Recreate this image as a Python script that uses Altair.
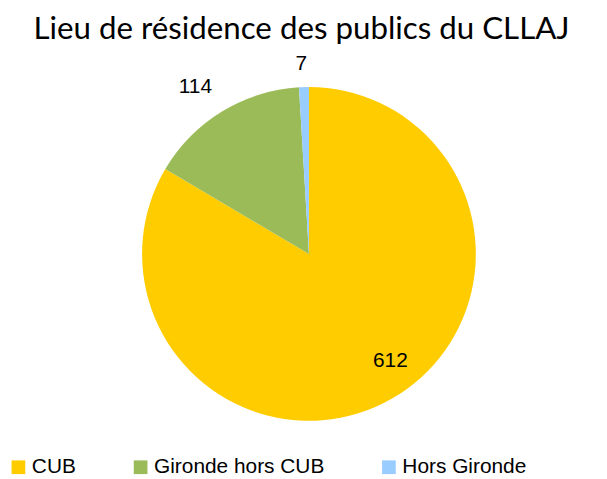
import altair as alt
import pandas as pd

categories = ["CUB", "Gironde hors CUB", "Hors Gironde"]
values = [612, 114, 7]
colors = ["#FFCC00", "#9BBB59", "#99CCFF"]

df = pd.DataFrame({
    "cat": categories,
    "value": values,
    "ord": list(range(len(categories))),
})

W, H = 591, 423
CX, CY = 299, 206
R = 168

base = alt.Chart(df).encode(
    theta=alt.Theta("value:Q", stack=True),
    order=alt.Order("ord:Q"),
    x=alt.value(CX), y=alt.value(CY),
)

pie = base.mark_arc(outerRadius=R).encode(
    color=alt.Color(
        "cat:N",
        scale=alt.Scale(domain=categories, range=colors),
        sort=categories,
        legend=alt.Legend(
            title=None, orient="none", direction="horizontal",
            legendX=-4, legendY=H - 13,
            symbolType="square", symbolSize=190, symbolStrokeWidth=0,
            labelFont="Liberation Sans", labelFontSize=21, labelColor="black",
            labelOffset=3, columnPadding=54, padding=0, labelLimit=400,
        ),
    ),
)

def label(cat, radius, dx=0, dy=0):
    return base.mark_text(radius=radius, dx=dx, dy=dy, font="Liberation Sans",
                          fontSize=21, color="black").encode(
        text=alt.condition(alt.datum.cat == cat, alt.Text("value:Q"), alt.value("")),
    )

chart = alt.layer(
    pie,
    label(categories[0], 133, dx=16, dy=-8),
    label(categories[1], 200, dx=-10, dy=3),
    label(categories[2], 190, dx=-2, dy=-1),
).properties(
    width=W, height=H,
    padding={"top": 4, "left": 0, "right": 0, "bottom": 0},
    title=alt.TitleParams(
        "Lieu de résidence des publics du CLLAJ",
        font="Lato", fontSize=31.5, fontWeight="normal", color="black",
        anchor="middle", offset=2, dx=-4,
    ),
).configure_view(stroke=None)

chart.save("out.html", embed_options={"renderer": "svg", "actions": False})
